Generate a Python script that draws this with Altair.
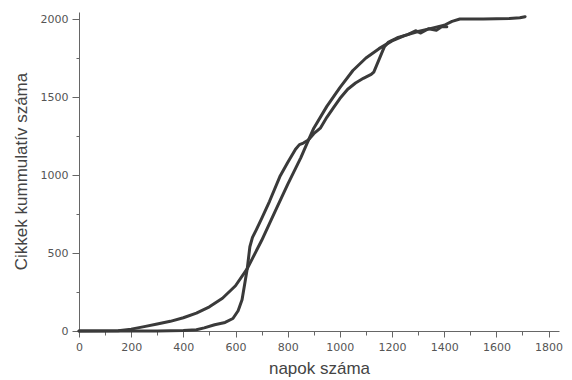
import altair as alt
import pandas as pd

# smooth (sigmoid-like) curve
a_day = [0, 150, 200, 250, 300, 350, 400, 450, 500, 550, 600, 645, 700, 750, 800,
         850, 880, 900, 950, 1000, 1050, 1100, 1150, 1200, 1250, 1300, 1350, 1400,
         1430, 1460, 1550, 1650, 1690, 1710]
a_cum = [0, 2, 12, 28, 45, 62, 85, 115, 155, 210, 290, 400, 580, 760, 940,
         1110, 1225, 1300, 1440, 1560, 1670, 1750, 1810, 1860, 1895, 1920, 1940, 1960,
         1985, 2000, 2000, 2003, 2008, 2015]

# stepwise curve
b_day = [0, 300, 400, 450, 480, 520, 560, 590, 610, 625, 635, 645, 655, 665, 680,
         700, 730, 770, 800, 830, 845, 860, 879, 900, 925, 950, 975, 1000, 1030, 1060,
         1090, 1120, 1130, 1150, 1170, 1185, 1220, 1260, 1290, 1310, 1340, 1370, 1390, 1410]
b_cum = [0, 0, 3, 8, 20, 40, 55, 80, 130, 200, 300, 400, 540, 600, 650,
         720, 830, 990, 1080, 1165, 1195, 1205, 1224, 1265, 1300, 1370, 1430, 1490, 1550, 1590,
         1620, 1645, 1660, 1740, 1820, 1850, 1880, 1900, 1925, 1910, 1938, 1928, 1950, 1950]

x_ticks = list(range(0, 1801, 100))
y_ticks = list(range(0, 2001, 250))

df = pd.concat([
    pd.DataFrame({"nap": a_day, "cikk": a_cum, "sor": "A"}),
    pd.DataFrame({"nap": b_day, "cikk": b_cum, "sor": "B"}),
])

axis_common = dict(
    domainColor="#666666", domainWidth=1, tickColor="#666666", tickWidth=1,
    labelFont="DejaVu Sans", labelFontSize=11, labelColor="#555555",
    labelOverlap=False, labelFlush=False, grid=False,
    titleFont="Liberation Sans", titleFontSize=17, titleColor="#444444",
    titleFontWeight="normal",
)

chart = alt.Chart(df).mark_line(
    color="#3a3a3a", strokeWidth=3, strokeJoin="round", strokeCap="round"
).encode(
    x=alt.X("nap:Q", scale=alt.Scale(domain=[0, 1840], nice=False, zero=False),
            axis=alt.Axis(values=x_ticks, format="d",
                          labelExpr="datum.value % 200 == 0 ? datum.label : ''",
                          tickSize={"condition": {"test": "datum.value % 200 == 0", "value": 6}, "value": 4},
                          labelPadding=4,
                          titleX=240, titleY=42, titleBaseline="alphabetic", titleAlign="center",
                          **axis_common),
            title="napok száma"),
    y=alt.Y("cikk:Q", scale=alt.Scale(domain=[0, 2045], nice=False),
            axis=alt.Axis(values=y_ticks, format="d",
                          labelExpr="datum.value % 500 == 0 ? datum.label : ''",
                          tickSize={"condition": {"test": "datum.value % 500 == 0", "value": 7}, "value": 3},
                          labelPadding=4,
                          titleX=-53, titleY=159, titleAngle=-90, titleBaseline="alphabetic", titleAlign="center",
                          **axis_common),
            title="Cikkek kummulatív száma"),
    detail="sor:N",
).properties(
    width=480, height=319,
    autosize=alt.AutoSizeParams(type="none"),
    padding={"left": 71, "top": 4, "right": 5, "bottom": 46},
    background="white",
).configure_view(stroke=None)

chart.save("out.html", embed_options={"renderer": "svg", "actions": False})
